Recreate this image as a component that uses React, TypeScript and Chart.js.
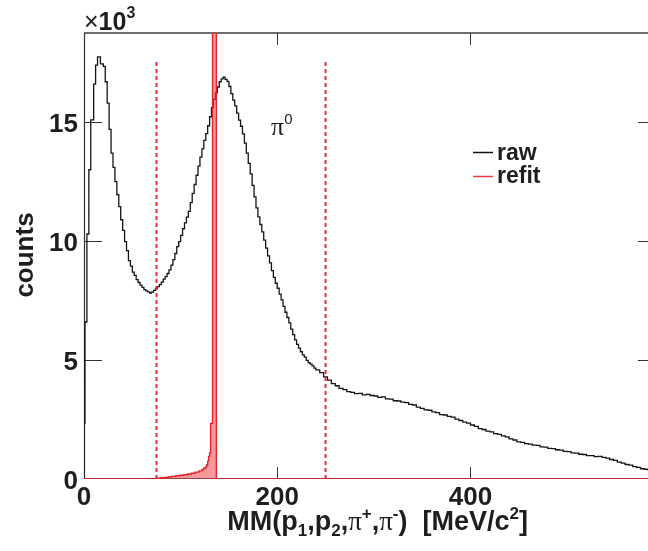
import React, { useEffect, useRef } from "react";
import { Chart, registerables } from "chart.js";

Chart.register(...registerables);

// ---------------- data ----------------
const X_MIN = 0;
const X_MAX = 592; // MeV/c^2 at the right frame
const Y_MAX = 18750; // counts at the top frame

const xTickValues = [0, 200, 400];
const yTickValues = [0, 5000, 10000, 15000];

// "raw" histogram: low bin edges (MeV/c^2) and counts
const rawEdges = [
  0, 1, 3, 5, 7, 10, 12, 14, 17,
  20, 22, 24, 26, 28, 30, 32, 34, 36, 38, 40, 42, 44, 46, 48, 50, 52, 54, 56, 58,
  60, 62, 64, 66, 68, 70, 72, 74, 76, 78, 80, 82, 84, 86, 88, 90, 92, 94, 96, 98,
  100, 102, 104, 106, 108, 110, 112, 114, 116, 118, 120, 122, 124, 126, 128, 130, 132, 134, 136, 138,
  140, 142, 144, 146, 148, 150, 152, 154, 156, 158, 160, 162, 164, 166, 168, 170, 172, 174, 176, 178,
  180, 182, 184, 186, 188, 190, 192, 194, 196, 198, 200, 202, 204, 206, 208, 210, 212, 214, 216, 218,
  220, 222, 224, 226, 228, 230, 232, 234, 236, 238,
  240, 244, 248, 252, 256,
  260, 264, 268, 272, 276, 280, 284, 288, 292, 296, 300, 304, 308, 312, 316, 320, 324, 328, 332, 336,
  340, 344, 348, 352, 356, 360, 364, 368, 372, 376, 380, 384, 388, 392, 396, 400, 404, 408, 412, 416,
  420, 424, 428, 432, 436, 440, 444, 448, 452, 456, 460, 464, 468, 472, 476, 480, 484, 488, 492, 496,
  500, 504, 508, 512, 516, 520, 524, 528, 532, 536, 540, 544, 548, 552, 556, 560, 564, 568, 572, 576,
  580, 584, 588,
];
const rawCounts = [
  2350, 6600, 10300, 13000, 15100, 16600, 17400, 17750, 17450,
  17350, 16700, 15800, 14700, 13700, 13100, 12500, 11950, 11450, 10900, 10450, 9980, 9600, 9180, 8950, 8700, 8560, 8380, 8260, 8150,
  8060, 7960, 7910, 7870, 7820, 7860, 7930, 8010, 8090, 8170, 8280, 8400, 8510, 8640, 8790, 8990, 9220, 9480, 9770, 9980,
  10240, 10520, 10770, 11010, 11250, 11620, 12010, 12380, 12770, 13150, 13530, 13880, 14240, 14520, 14850, 15230, 15610, 15960, 16230, 16480,
  16700, 16820, 16890, 16800, 16720, 16500, 16200, 15930, 15690, 15380, 15090, 14830, 14510, 14120, 13700, 13270, 12830, 12340, 11860, 11400,
  11020, 10700, 10390, 10040, 9710, 9380, 9090, 8760, 8480, 8230, 8020, 7770, 7530, 7260, 7010, 6790, 6560, 6300, 6070, 5850,
  5660, 5500, 5350, 5220, 5120, 4990, 4890, 4830, 4760, 4660,
  4590, 4470, 4290, 4160, 4010,
  3920, 3810, 3760, 3670, 3640, 3590, 3600, 3540, 3560, 3510, 3490, 3430, 3450, 3370, 3360, 3290, 3280, 3230, 3210, 3140,
  3110, 3020, 2970, 2910, 2890, 2820, 2790, 2710, 2690, 2630, 2600, 2520, 2460, 2390, 2350, 2270, 2210, 2120, 2080, 2010,
  1980, 1910, 1880, 1810, 1770, 1690, 1640, 1560, 1540, 1490, 1470, 1420, 1410, 1350, 1340, 1290, 1280, 1230, 1210, 1160,
  1150, 1100, 1090, 1040, 1030, 980, 980, 940, 950, 910, 880, 820, 780, 710, 670, 610, 580, 520, 490, 430,
  410, 360, 330,
];

// "refit" histogram: low bin edges and counts (the pi0 spike goes far off scale)
const refitEdges = [
  0, 75, 79, 83, 87, 91, 95, 99, 103, 107, 111, 115, 119, 122, 124, 126, 127, 128, 129, 130, 131,
  133, 134, 135, 136, 137,
];
const refitCounts = [
  0, 30, 50, 70, 95, 110, 135, 160, 180, 210, 240, 290, 340, 400, 460, 520, 600, 750, 950, 1100, 2340,
  70000, 95000, 90000, 60000, 0,
];

// selection window (dashed lines)
const cutValues = [75, 250];
const cutHeight = 17550;

// ---------------- helpers ----------------
const SANS = "'Liberation Sans', Arial, Helvetica, sans-serif";
const SERIF = "'Liberation Serif', 'Times New Roman', serif";
const TEXT = "#1e1e1e";

function histPoints(edges: number[], counts: number[]) {
  const pts = [{ x: edges[0], y: 0 }];
  edges.forEach((e, i) => pts.push({ x: e, y: counts[i] }));
  pts.push({ x: X_MAX, y: counts[counts.length - 1] });
  return pts;
}

type Part = { t: string; font: string; dy?: number };
function richWidth(ctx: CanvasRenderingContext2D, parts: Part[]) {
  let w = 0;
  for (const p of parts) {
    ctx.font = p.font;
    w += ctx.measureText(p.t).width;
  }
  return w;
}
function drawRich(ctx: CanvasRenderingContext2D, parts: Part[], x: number, y: number) {
  let cx = x;
  for (const p of parts) {
    ctx.font = p.font;
    ctx.fillText(p.t, cx, y + (p.dy || 0));
    cx += ctx.measureText(p.t).width;
  }
}

const rootStyle = {
  id: "rootStyle",
  beforeDatasetsDraw(chart: any) {
    const { ctx, chartArea: a, scales } = chart;
    const xs = scales.x;
    const ys = scales.y;
    ctx.save();
    // frame
    ctx.strokeStyle = "#6f6f6f";
    ctx.lineWidth = 2;
    ctx.beginPath();
    ctx.moveTo(a.left, a.top);
    ctx.lineTo(a.right, a.top);
    ctx.stroke();
    ctx.strokeStyle = "#333";
    ctx.lineWidth = 1.2;
    ctx.beginPath();
    ctx.moveTo(a.left + 0.5, a.top);
    ctx.lineTo(a.left + 0.5, a.bottom);
    ctx.moveTo(a.right - 0.5, a.top);
    ctx.lineTo(a.right - 0.5, a.bottom);
    ctx.moveTo(a.left, a.bottom - 0.5);
    ctx.lineTo(a.right, a.bottom - 0.5);
    ctx.stroke();
    // ticks
    ctx.strokeStyle = "#333";
    ctx.lineWidth = 1;
    ctx.beginPath();
    for (const v of yTickValues) {
      if (v === 0) continue;
      const py = Math.round(ys.getPixelForValue(v)) + 0.5;
      ctx.moveTo(a.left, py);
      ctx.lineTo(a.left + 18, py);
      ctx.moveTo(a.right, py);
      ctx.lineTo(a.right - 18, py);
    }
    for (const v of xTickValues) {
      if (v === 0) continue;
      const px = Math.round(xs.getPixelForValue(v)) + 0.5;
      ctx.moveTo(px, a.bottom);
      ctx.lineTo(px, a.bottom - 12);
      ctx.moveTo(px, a.top);
      ctx.lineTo(px, a.top + 12);
    }
    ctx.stroke();
    ctx.restore();
  },
  afterDraw(chart: any) {
    const { ctx, chartArea: a, scales } = chart;
    const xs = scales.x;
    const ys = scales.y;
    ctx.save();
    ctx.fillStyle = TEXT;
    ctx.textBaseline = "alphabetic";

    // y tick labels
    ctx.font = `bold 26px ${SANS}`;
    ctx.textAlign = "right";
    for (const v of yTickValues) {
      const py = ys.getPixelForValue(v);
      ctx.fillText(String(v / 1000), a.left - 6, py + 10);
    }
    // x tick labels
    ctx.textAlign = "center";
    for (const v of xTickValues) {
      const px = xs.getPixelForValue(v);
      ctx.fillText(String(v), px, a.bottom + 26);
    }

    // x10^3
    ctx.textAlign = "left";
    drawRich(
      ctx,
      [
        { t: "\u00d7", font: `25px ${SANS}` },
        { t: "10", font: `bold 25px ${SANS}` },
        { t: "3", font: `bold 16px ${SANS}`, dy: -12 },
      ],
      a.left,
      30
    );

    // y title
    ctx.save();
    ctx.translate(33, 255);
    ctx.rotate(-Math.PI / 2);
    ctx.textAlign = "center";
    ctx.font = `bold 26px ${SANS}`;
    ctx.fillText("counts", 0, 0);
    ctx.restore();

    // x title
    const B = `bold 27px ${SANS}`;
    const S = `bold 17px ${SANS}`;
    const P = `27px ${SERIF}`;
    const title: Part[] = [
      { t: "MM(p", font: B },
      { t: "1", font: S, dy: 6 },
      { t: ",p", font: B },
      { t: "2", font: S, dy: 6 },
      { t: ",", font: B },
      { t: "\u03c0", font: P },
      { t: "+", font: S, dy: -11 },
      { t: ",", font: B },
      { t: "\u03c0", font: P },
      { t: "-", font: S, dy: -11 },
      { t: ")  [MeV/c", font: B },
      { t: "2", font: S, dy: -11 },
      { t: "]", font: B },
    ];
    ctx.textAlign = "left";
    const tw = richWidth(ctx, title);
    drawRich(ctx, title, 528 - tw, 530);

    // pi0 label
    drawRich(
      ctx,
      [
        { t: "\u03c0", font: `26px ${SERIF}` },
        { t: "0", font: `15px ${SANS}`, dy: -11 },
      ],
      271,
      135
    );

    // legend
    ctx.lineWidth = 1.5;
    ctx.strokeStyle = "#111";
    ctx.beginPath();
    ctx.moveTo(473, 152.5);
    ctx.lineTo(493, 152.5);
    ctx.stroke();
    ctx.strokeStyle = "#ef3b3f";
    ctx.beginPath();
    ctx.moveTo(473, 176.5);
    ctx.lineTo(493, 176.5);
    ctx.stroke();
    ctx.font = `bold 23px ${SANS}`;
    ctx.fillStyle = TEXT;
    ctx.fillText("raw", 497, 160);
    ctx.fillText("refit", 497, 183);

    ctx.restore();
  },
};

export default function App() {
  const ref = useRef<HTMLCanvasElement>(null);

  useEffect(() => {
    const canvas = ref.current;
    if (!canvas) return;
    const cutSets = cutValues.map((c) => ({
      data: [
        { x: c, y: 0 },
        { x: c, y: cutHeight },
      ],
      borderColor: "#e8303a",
      borderWidth: 2,
      borderDash: [4, 3],
      pointRadius: 0,
      fill: false,
    }));
    const chart = new Chart(canvas, {
      type: "line",
      data: {
        datasets: [
          {
            label: "refit",
            data: histPoints(refitEdges, refitCounts),
            stepped: true,
            borderColor: "#e8242b",
            backgroundColor: "rgba(236, 70, 74, 0.55)",
            borderWidth: 1.4,
            pointRadius: 0,
            fill: "origin",
          },
          ...cutSets,
          {
            label: "raw",
            data: histPoints(rawEdges, rawCounts),
            stepped: true,
            borderColor: "#141414",
            borderWidth: 1.3,
            pointRadius: 0,
            fill: false,
          },
        ] as any,
      },
      options: {
        animation: false,
        responsive: false,
        devicePixelRatio: 1,
        layout: { padding: { left: 84, top: 33, right: 8, bottom: 72 } },
        parsing: true,
        scales: {
          x: { type: "linear", min: X_MIN, max: X_MAX, display: false },
          y: { type: "linear", min: 0, max: Y_MAX, display: false },
        },
        plugins: {
          legend: { display: false },
          tooltip: { enabled: false },
        },
        elements: { line: { tension: 0 } },
      } as any,
      plugins: [rootStyle],
    });
    return () => chart.destroy();
  }, []);

  return (
    <div
      style={{
        position: "fixed",
        left: 0,
        top: 0,
        width: 648,
        height: 551,
        overflow: "hidden",
        background: "#fff",
      }}
    >
      <canvas ref={ref} width={664} height={551} style={{ display: "block", width: 664, height: 551 }} />
    </div>
  );
}
